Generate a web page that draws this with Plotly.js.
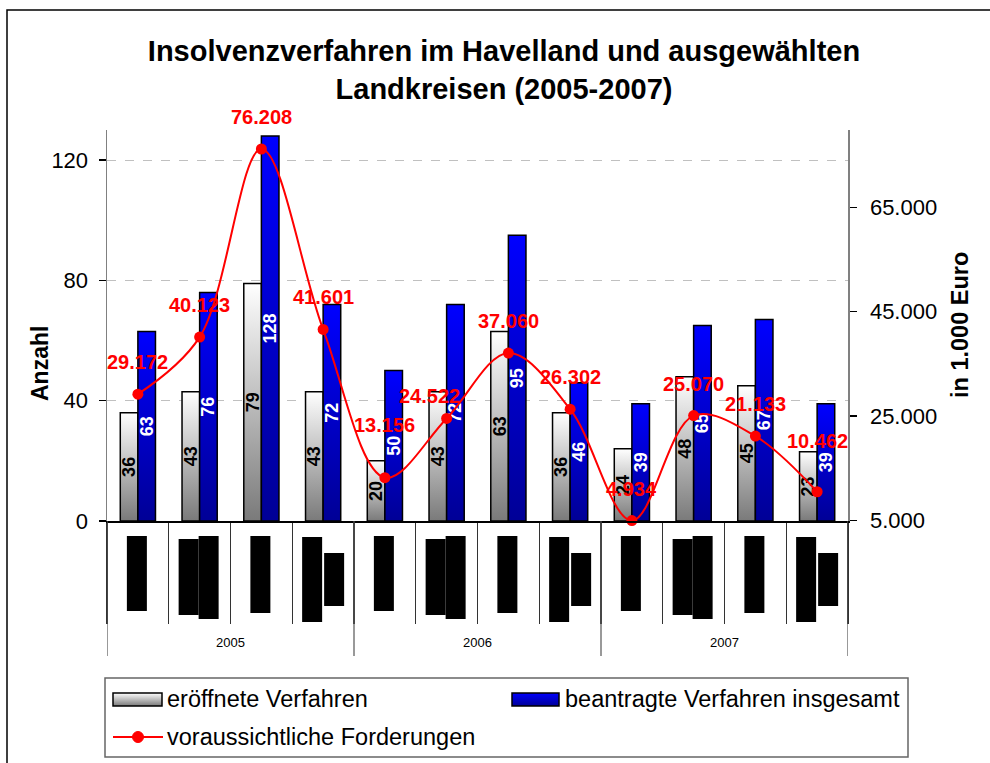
<!DOCTYPE html>
<html>
<head>
<meta charset="utf-8">
<script src="https://cdn.plot.ly/plotly-3.0.1.min.js"></script>
<style>
  html, body { margin: 0; padding: 0; background: #fff; }
  #chart { width: 990px; height: 763px; }
</style>
</head>
<body>
<div id="chart"></div>
<script>
// ---- data ----
const years = ['2005', '2006', '2007'];
const kreise = ['Kreis 1', 'Kreis 2', 'Kreis 3', 'Kreis 4'];
const categories = years.flatMap(y => kreise.map(k => y + ' ' + k));
const eroeffnet = [36, 43, 79, 43, 20, 43, 63, 36, 24, 48, 45, 23];
const beantragt = [63, 76, 128, 72, 50, 72, 95, 46, 39, 65, 67, 39];
const forderungen = [29172, 40123, 76208, 41601, 13156, 24522, 37060, 26302, 4934, 25070, 21133, 10462];
const leftTicks = [0, 40, 80, 120];
const rightTicks = [5000, 25000, 45000, 65000];
const seriesNames = ['eröffnete Verfahren', 'beantragte Verfahren insgesamt', 'voraussichtliche Forderungen'];

// ---- layout helpers ----
const FONT = 'Liberation Sans, Arial, sans-serif';
const W = 990, H = 763, L = 107, R = 142, T = 130, B = 242;
const PW = W - L - R, PH = H - T - B;
const px = v => (v - L) / PW;
const py = v => (H - B - v) / PH;
const fmt = v => (v >= 1000 ? Math.floor(v / 1000) + '.' + String(v % 1000).padStart(3, '0') : String(v));
const LEFT_RANGE = [0, 130];
const RIGHT_RANGE = [4850, 79850];

const traces = [
  {
    type: 'bar', name: seriesNames[0], x: categories, y: eroeffnet,
    text: eroeffnet.map(String), textposition: 'inside', insidetextanchor: 'middle',
    textangle: -90, constraintext: 'none',
    textfont: { family: FONT, size: 18, color: '#000', weight: 'bold' },
    insidetextfont: { family: FONT, size: 18, color: '#000', weight: 'bold' },
    marker: { color: '#c8c8c8', line: { color: '#000', width: 1.5 } },
    hoverinfo: 'skip', showlegend: false
  },
  {
    type: 'bar', name: seriesNames[1], x: categories, y: beantragt,
    text: beantragt.map(String), textposition: 'inside', insidetextanchor: 'middle',
    textangle: -90, constraintext: 'none',
    textfont: { family: FONT, size: 18, color: '#fff', weight: 'bold' },
    insidetextfont: { family: FONT, size: 18, color: '#fff', weight: 'bold' },
    marker: { color: '#0000d0', line: { color: '#000', width: 1.5 } },
    hoverinfo: 'skip', showlegend: false
  },
  {
    type: 'scatter', mode: 'lines+markers', name: seriesNames[2], x: categories, y: forderungen,
    yaxis: 'y2', cliponaxis: false,
    line: { color: '#ff0000', width: 2, shape: 'spline', smoothing: 1 },
    marker: { color: '#ff0000', size: 11 },
    hoverinfo: 'skip', showlegend: false
  }
];

const shapes = [];
const annotations = [];

// outer frame
shapes.push({ type: 'rect', xref: 'paper', yref: 'paper', x0: px(7), x1: px(1000), y0: py(10), y1: py(800),
  line: { color: '#000', width: 1.5 }, fillcolor: 'rgba(0,0,0,0)', layer: 'below' });

// year dividers
[-0.5, 3.5, 7.5, 11.5].forEach(xv => {
  shapes.push({ type: 'line', xref: 'x', yref: 'paper', ysizemode: 'pixel', yanchor: 0,
    x0: xv, x1: xv, y0: 0, y1: -135, line: { color: '#555', width: 1.2 } });
});

// unreadable category label blocks (rendered as solid blocks in the original)
const blockPattern = [
  [[-11, 9, -15, -90]],
  [[-21, -1, -18, -94], [-1, 19, -15, -98]],
  [[-11, 9, -15, -92]],
  [[-21, -1, -16, -101], [1, 21, -32, -85]]
];
categories.forEach((c, i) => {
  blockPattern[i % 4].forEach(b => {
    shapes.push({ type: 'rect', xref: 'x', yref: 'paper', xsizemode: 'pixel', ysizemode: 'pixel',
      xanchor: i, yanchor: 0, x0: b[0], x1: b[1], y0: b[2], y1: b[3],
      fillcolor: '#000', line: { width: 0 } });
  });
});

// year labels
years.forEach((y, k) => {
  annotations.push({ text: y, xref: 'x', yref: 'paper', x: k * 4 + 1.5, y: 0, yshift: -121,
    showarrow: false, xanchor: 'center', yanchor: 'middle', font: { family: FONT, size: 13, color: '#000' } });
});

// line data labels
const labelShift = { 4: [0, 53], 5: [-17, 22], 11: [0, 51] };
forderungen.forEach((v, i) => {
  const s = labelShift[i] || [0, 32];
  annotations.push({ text: fmt(v), xref: 'x', yref: 'y2', x: categories[i], y: v,
    xshift: s[0], yshift: s[1], showarrow: false, xanchor: 'center', yanchor: 'middle',
    font: { family: FONT, size: 20, color: '#ff0000', weight: 'bold' } });
});

// axis titles
annotations.push({ text: 'Anzahl', xref: 'paper', yref: 'paper', x: px(40), y: py(364), textangle: -90,
  showarrow: false, xanchor: 'center', yanchor: 'middle', font: { family: FONT, size: 23, color: '#000', weight: 'bold' } });
annotations.push({ text: 'in 1.000 Euro', xref: 'paper', yref: 'paper', x: px(960), y: py(325), textangle: -90,
  showarrow: false, xanchor: 'center', yanchor: 'middle', font: { family: FONT, size: 23.5, color: '#000', weight: 'bold' } });

// legend (drawn manually)
const legendStart = shapes.length;
shapes.push({ type: 'rect', xref: 'paper', yref: 'paper', x0: px(105), x1: px(908), y0: py(678), y1: py(757),
  line: { color: '#666', width: 1.5 }, fillcolor: '#fff' });
shapes.push({ type: 'rect', xref: 'paper', yref: 'paper', x0: px(113), x1: px(162), y0: py(693), y1: py(706),
  line: { color: '#000', width: 1.5 }, fillcolor: '#c8c8c8' });
shapes.push({ type: 'rect', xref: 'paper', yref: 'paper', x0: px(512), x1: px(559), y0: py(693), y1: py(706),
  line: { color: '#000', width: 1.5 }, fillcolor: '#0000d0' });
shapes.push({ type: 'line', xref: 'paper', yref: 'paper', x0: px(113), x1: px(163), y0: py(737), y1: py(737),
  line: { color: '#ff0000', width: 2 } });
shapes.push({ type: 'circle', xref: 'paper', yref: 'paper', x0: px(132.5), x1: px(143.5), y0: py(731.5), y1: py(742.5),
  line: { color: '#ff0000', width: 1 }, fillcolor: '#ff0000' });
const legendText = [[seriesNames[0], 165, 699], [seriesNames[1], 563, 699], [seriesNames[2], 165, 737]];
legendText.forEach(t => {
  annotations.push({ text: t[0], xref: 'paper', yref: 'paper', x: px(t[1]), y: py(t[2]), showarrow: false,
    xanchor: 'left', yanchor: 'middle', font: { family: FONT, size: 23.5, color: '#000' } });
});

const tickFont = { family: FONT, size: 22, color: '#000' };
const layout = {
  width: W, height: H,
  margin: { l: L, r: R, t: T, b: B, pad: 0 },
  paper_bgcolor: '#fff', plot_bgcolor: '#fff',
  separators: ',.',
  font: { family: FONT, color: '#000' },
  title: {
    text: 'Insolvenzverfahren im Havelland und ausgewählten<br>Landkreisen (2005-2007)',
    x: 504 / W, xanchor: 'center', xref: 'container',
    y: 1 - 61 / H, yanchor: 'middle', yref: 'container',
    font: { family: FONT, size: 29, color: '#000', weight: 'bold' }
  },
  barmode: 'group', bargap: 0.43, bargroupgap: 0,
  showlegend: false,
  xaxis: {
    type: 'category', range: [-0.5, 11.5], tickson: 'boundaries', ticks: 'outside', ticklen: 101,
    tickcolor: '#333', tickwidth: 1.2, showticklabels: false, showline: true, linecolor: '#000', linewidth: 2,
    showgrid: false, zeroline: false, fixedrange: true
  },
  yaxis: {
    range: LEFT_RANGE, tickvals: leftTicks, ticktext: leftTicks.map(String), ticks: 'outside', ticklen: 7,
    tickcolor: '#000', tickwidth: 1.2, showline: true, linecolor: '#808080', linewidth: 1.5,
    showgrid: true, gridcolor: '#c0c0c0', griddash: 'dash', gridwidth: 1, zeroline: false,
    tickfont: tickFont, ticklabelstandoff: 6, fixedrange: true
  },
  yaxis2: {
    overlaying: 'y', side: 'right', range: RIGHT_RANGE, tickvals: rightTicks, ticktext: rightTicks.map(fmt),
    ticks: 'outside', ticklen: 7, tickcolor: '#000', tickwidth: 1.2, showline: true, linecolor: '#808080',
    linewidth: 1.5, showgrid: false, zeroline: false,
    tickfont: tickFont, ticklabelstandoff: 9, fixedrange: true
  },
  yaxis3: {
    overlaying: 'y', side: 'left', range: LEFT_RANGE, tickvals: leftTicks, ticks: 'inside', ticklen: 6,
    tickcolor: '#000', tickwidth: 1.2, showticklabels: false, showline: false, showgrid: false, zeroline: false,
    fixedrange: true
  },
  yaxis4: {
    overlaying: 'y', side: 'right', range: RIGHT_RANGE, tickvals: rightTicks, ticks: 'inside', ticklen: 6,
    tickcolor: '#000', tickwidth: 1.2, showticklabels: false, showline: false, showgrid: false, zeroline: false,
    fixedrange: true
  },
  shapes: shapes,
  annotations: annotations
};

Plotly.newPlot('chart', traces, layout, { staticPlot: true, displayModeBar: false }).then(gd => {
  const NS = 'http://www.w3.org/2000/svg';
  let defs = gd.querySelector('defs');
  if (!defs) { defs = document.createElementNS(NS, 'defs'); gd.querySelector('svg').appendChild(defs); }
  const addGrad = (id, c0, c1) => {
    const g = document.createElementNS(NS, 'linearGradient');
    g.setAttribute('id', id); g.setAttribute('x1', '0'); g.setAttribute('y1', '0');
    g.setAttribute('x2', '0'); g.setAttribute('y2', '1');
    [[0, c0], [1, c1]].forEach(s => {
      const st = document.createElementNS(NS, 'stop');
      st.setAttribute('offset', s[0]); st.setAttribute('stop-color', s[1]);
      g.appendChild(st);
    });
    defs.appendChild(g);
  };
  addGrad('gWhite', '#ffffff', '#7a7a7a');
  addGrad('gBlue', '#0000ff', '#000096');
  const barTraces = gd.querySelectorAll('.barlayer .trace');
  if (barTraces[0]) barTraces[0].querySelectorAll('.point path').forEach(p => { p.style.fill = 'url(#gWhite)'; });
  if (barTraces[1]) barTraces[1].querySelectorAll('.point path').forEach(p => { p.style.fill = 'url(#gBlue)'; });
  const s1 = gd.querySelector('.shapelayer path[data-index="' + (legendStart + 1) + '"]');
  const s2 = gd.querySelector('.shapelayer path[data-index="' + (legendStart + 2) + '"]');
  if (s1) s1.style.fill = 'url(#gWhite)';
  if (s2) s2.style.fill = 'url(#gBlue)';
});
</script>
</body>
</html>
